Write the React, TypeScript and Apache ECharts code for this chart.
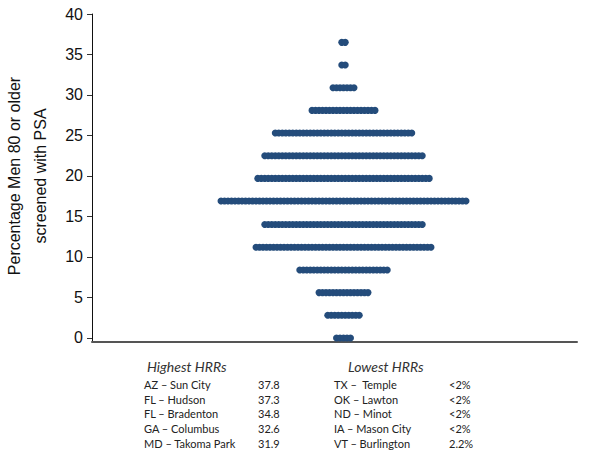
import React, { useEffect, useRef } from "react";
import * as echarts from "echarts";

// Bin values (percentage screened) and number of HRRs in each bin
const binValues = [0, 2.8, 5.6, 8.4, 11.2, 14.0, 16.9, 19.7, 22.5, 25.3, 28.1, 30.9, 33.7, 36.5];
const binCounts = [5, 10, 15, 26, 51, 46, 71, 50, 46, 40, 19, 7, 2, 2];

const yTicks = [0, 5, 10, 15, 20, 25, 30, 35, 40];

const highestNames = ["AZ \u2013 Sun City", "FL \u2013 Hudson", "FL \u2013 Bradenton", "GA \u2013 Columbus", "MD \u2013 Takoma Park"];
const highestValues = ["37.8", "37.3", "34.8", "32.6", "31.9"];
const lowestNames = ["TX \u2013  Temple", "OK \u2013 Lawton", "ND \u2013 Minot", "IA \u2013 Mason City", "VT \u2013 Burlington"];
const lowestValues = ["<2%", "<2%", "<2%", "<2%", "2.2%"];

export default function App() {
  const ref = useRef<HTMLDivElement>(null);
  useEffect(() => {
    document.body.style.margin = "0";
    if (!ref.current) return;
    const chart = echarts.init(ref.current, undefined, { renderer: "svg" });

    const points: number[][] = [];
    binValues.forEach((y, bi) => {
      const n = binCounts[bi];
      for (let i = 0; i < n; i++) {
        points.push([i - (n - 1) / 2, y]);
      }
    });

    const rowFont = "Lato, 'Open Sans', sans-serif";
    const graphics: any[] = [
      {
        type: "text",
        x: 27,
        y: 176,
        rotation: Math.PI / 2,
        style: {
          text: "Percentage Men 80 or older\nscreened with PSA",
          fontSize: 16,
          lineHeight: 26,
          fontFamily: "'Liberation Sans', Arial, sans-serif",
          fill: "#111",
          align: "center",
          verticalAlign: "middle",
        },
      },
      {
        type: "text",
        x: 147,
        y: 366,
        style: { text: "Highest HRRs", fontSize: 14, fontStyle: "italic", fontFamily: rowFont, fill: "#333", verticalAlign: "middle" },
      },
      {
        type: "text",
        x: 348,
        y: 366,
        style: { text: "Lowest HRRs", fontSize: 14, fontStyle: "italic", fontFamily: rowFont, fill: "#333", verticalAlign: "middle" },
      },
    ];
    const rowYs = [384, 399, 413.5, 428.5, 443];
    const addCol = (texts: string[], x: number) => {
      texts.forEach((t, i) => {
        graphics.push({
          type: "text",
          x,
          y: rowYs[i],
          style: { text: t, fontSize: 11, fontFamily: rowFont, fill: "#222", verticalAlign: "middle" },
        });
      });
    };
    addCol(highestNames, 144);
    addCol(highestValues, 258);
    addCol(lowestNames, 334);
    addCol(lowestValues, 449);

    chart.setOption({
      animation: false,
      grid: { left: 92, right: 24, top: 14, bottom: 115 },
      xAxis: {
        type: "value",
        min: -71.86,
        max: 66.71,
        axisLine: { show: true, onZero: false, lineStyle: { color: "#555", width: 2 } },
        axisTick: { show: false },
        axisLabel: { show: false },
        splitLine: { show: false },
      },
      yAxis: {
        type: "value",
        min: -0.5,
        max: 40,
        axisLine: { show: true, onZero: false, lineStyle: { color: "#111", width: 1 } },
        axisTick: { show: true, length: 5, customValues: yTicks, lineStyle: { color: "#333" } },
        axisLabel: {
          customValues: yTicks,
          fontSize: 16,
          color: "#111",
          margin: 9,
          fontFamily: "'Liberation Sans', Arial, sans-serif",
        },
        splitLine: { show: false },
      },
      series: [
        {
          type: "scatter",
          data: points,
          symbol: "circle",
          symbolSize: 7,
          itemStyle: { color: "#244c7b", opacity: 1 },
        },
      ],
      graphic: graphics,
    });
    return () => chart.dispose();
  }, []);
  return <div ref={ref} style={{ width: 601, height: 457 }} />;
}
